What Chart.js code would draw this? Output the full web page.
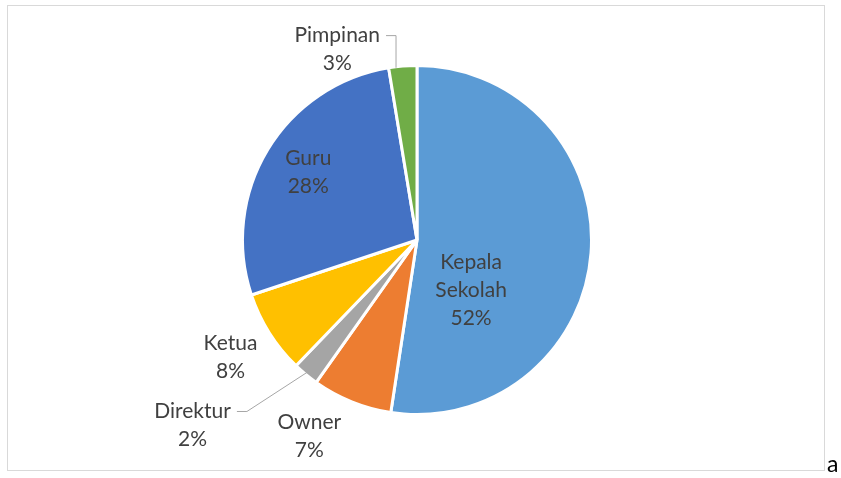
<!DOCTYPE html>
<html>
<head>
<meta charset="utf-8">
<script src="https://cdn.jsdelivr.net/npm/chart.js@4"></script>
<style>
  body { margin: 0; background: #fff; }
  #frame { position: absolute; left: 7px; top: 5px; width: 816px; height: 464px; border: 1px solid #d9d9d9; }
  #wrap { position: absolute; left: 0; top: 0; width: 841px; height: 478px; }
  #tail { position: absolute; left: 827px; top: 449px; font: 23px Lato, sans-serif; color: #000; }
</style>
</head>
<body>
<div id="frame"></div>
<div id="wrap"><canvas id="chart-pie"></canvas></div>
<div id="tail">a</div>
<script>
const categories = ['Kepala Sekolah', 'Owner', 'Direktur', 'Ketua', 'Guru', 'Pimpinan'];
const labelLines = [['Kepala', 'Sekolah'], ['Owner'], ['Direktur'], ['Ketua'], ['Guru'], ['Pimpinan']];
const shares = [52.4, 7.4, 2.4, 7.7, 27.5, 2.6];
const sliceColors = ['#5b9bd5', '#ed7d31', '#a5a5a5', '#ffc000', '#4472c4', '#70ad47'];

// label centre, relative to pie centre, in units of the radius
const labelSpots = [[0.31, 0.286], [-0.617, 1.126], [-1.286, 1.063], [-1.069, 0.674], [-0.623, -0.389], [-0.457, -1.091]];
// leader line kind: none, 'bend' (elbow then to slice middle), 'drop' (elbow then straight down)
const leaders = [null, null, 'bend', null, null, 'drop'];

const pieLabels = {
  id: 'pieLabels',
  afterDatasetsDraw(chart) {
    const c = chart.ctx;
    const meta = chart.getDatasetMeta(0);
    c.save();
    c.font = '21px Lato, sans-serif';
    c.fillStyle = '#404040';
    c.textAlign = 'center';
    c.textBaseline = 'middle';
    const lh = 28;
    meta.data.forEach((arc, i) => {
      const p = arc.getProps(['x', 'y', 'outerRadius', 'startAngle', 'endAngle'], true);
      const lines = labelLines[i].concat([Math.round(shares[i]) + '%']);
      const cx = p.x + labelSpots[i][0] * p.outerRadius;
      const cy = p.y + labelSpots[i][1] * p.outerRadius;
      const top = cy - (lines.length - 1) * lh / 2;
      lines.forEach((t, k) => c.fillText(t, cx, top + k * lh));

      if (leaders[i]) {
        const w = c.measureText(lines[0]).width;
        const sx = cx + w / 2 + 6;
        const bx = sx + 10;
        let ex, ey;
        if (leaders[i] === 'drop') {
          ex = bx;
          ey = p.y - Math.sqrt(p.outerRadius * p.outerRadius - (bx - p.x) * (bx - p.x)) + 1;
        } else {
          const mid = (p.startAngle + p.endAngle) / 2;
          ex = p.x + Math.cos(mid) * p.outerRadius * 0.98;
          ey = p.y + Math.sin(mid) * p.outerRadius * 0.98;
        }
        c.strokeStyle = '#a6a6a6';
        c.lineWidth = 1;
        c.beginPath();
        c.moveTo(sx, top);
        c.lineTo(bx, top);
        c.lineTo(ex, ey);
        c.stroke();
      }
    });
    c.restore();
  }
};

new Chart(document.getElementById('chart-pie'), {
  type: 'pie',
  data: {
    labels: categories,
    datasets: [{
      data: shares,
      backgroundColor: sliceColors,
      borderColor: '#ffffff',
      borderWidth: 3
    }]
  },
  options: {
    responsive: true,
    maintainAspectRatio: false,
    animation: false,
    layout: { padding: { top: 64, bottom: 62, left: 241, right: 248 } },
    plugins: {
      legend: { display: false },
      tooltip: { enabled: false }
    }
  },
  plugins: [pieLabels]
});
</script>
</body>
</html>
